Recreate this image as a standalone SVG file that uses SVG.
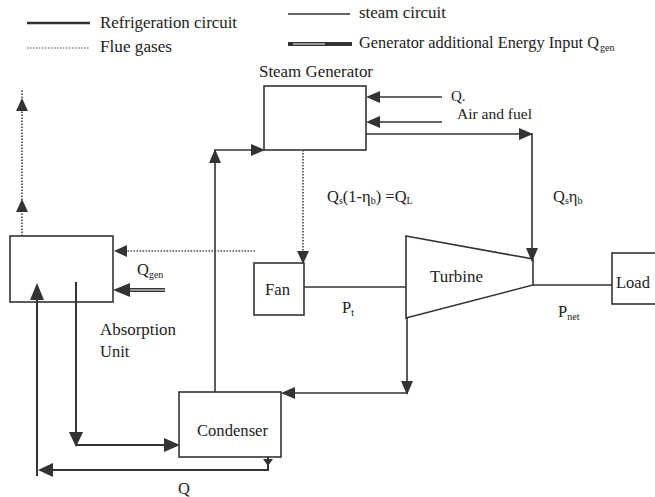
<svg xmlns="http://www.w3.org/2000/svg" width="655" height="497" viewBox="0 0 655 497">
<style>
text{font-family:"Liberation Serif","Times New Roman",serif;font-size:16.5px;fill:#222}
.sub{font-size:10px}
.box{fill:none;stroke:#333;stroke-width:1.6}
.st{fill:none;stroke:#333;stroke-width:1.6}
.rf{fill:none;stroke:#333;stroke-width:2}
.fg{fill:none;stroke:#444;stroke-width:1.6;stroke-dasharray:1.5 1.5}
.ah{fill:#333}
</style>
<rect width="655" height="497" fill="#fff"/>
<g id="legend">
<line x1="27" y1="23" x2="90" y2="23" stroke="#333" stroke-width="2.5"/>
<text x="100" y="28" textLength="137" lengthAdjust="spacingAndGlyphs">Refrigeration circuit</text>
<line x1="27" y1="48" x2="90" y2="48" stroke="#444" stroke-width="1.2" stroke-dasharray="1.5 1.5"/>
<text x="100" y="52" textLength="72" lengthAdjust="spacingAndGlyphs">Flue gases</text>
<line x1="288" y1="14" x2="350" y2="14" stroke="#333" stroke-width="1.6"/>
<text x="359" y="18" textLength="87" lengthAdjust="spacingAndGlyphs">steam circuit</text>
<line x1="288" y1="44" x2="352" y2="44" stroke="#333" stroke-width="4"/>
<line x1="293" y1="44" x2="325" y2="44" stroke="#fff" stroke-width="1"/>
<text x="359" y="48" textLength="240" lengthAdjust="spacingAndGlyphs">Generator additional Energy Input Q</text>
<text x="600" y="51" class="sub">gen</text>
</g>
<g id="steam-generator">
<rect class="box" x="264" y="86" width="102" height="64"/>
<text x="259" y="77" textLength="114" lengthAdjust="spacingAndGlyphs">Steam Generator</text>
</g>
<g id="absorption-unit">
<rect class="box" x="10" y="236" width="103" height="66"/>
<text x="100" y="335" textLength="76" lengthAdjust="spacingAndGlyphs">Absorption</text>
<text x="100" y="357">Unit</text>
</g>
<g id="fan">
<rect class="box" x="254" y="263" width="50" height="52"/>
<text x="265" y="295" textLength="25" lengthAdjust="spacingAndGlyphs">Fan</text>
</g>
<g id="turbine">
<polygon class="box" points="406,236 533,259 533,285 406,318"/>
<text x="430" y="282" textLength="53" lengthAdjust="spacingAndGlyphs">Turbine</text>
</g>
<g id="load">
<rect class="box" x="612" y="253" width="60" height="51"/>
<text x="616" y="288">Load</text>
</g>
<g id="condenser">
<rect class="box" x="179" y="392" width="102" height="65"/>
<text x="197" y="436" textLength="71" lengthAdjust="spacingAndGlyphs">Condenser</text>
</g>
<g id="connectors">
<path class="st" d="M215,392 V150 H258"/>
<polygon class="ah" points="215,149 209,163 221,163"/>
<polygon class="ah" points="265,150 251,144 251,156"/>
<path class="st" d="M442,97 H372"/>
<polygon class="ah" points="366,97 380,91 380,103"/>
<path class="st" d="M442,122 H372"/>
<polygon class="ah" points="366,122 380,116 380,128"/>
<path class="st" d="M366,134 H532 V252"/>
<polygon class="ah" points="533,134 519,128 519,140"/>
<polygon class="ah" points="532,262 526,248 538,248"/>
<path class="st" d="M407,318 V393 H288"/>
<polygon class="ah" points="407,395 401,381 413,381"/>
<polygon class="ah" points="281,393 295,387 295,399"/>
<path class="st" d="M304,287 H406"/>
<path class="st" d="M533,285 H612"/>
<path class="rf" d="M37,476 V292"/>
<polygon class="ah" points="37,283 30,300 44,300"/>
<path class="rf" d="M76,282 V445 H172"/>
<polygon class="ah" points="76,447 69,432 83,432"/>
<polygon class="ah" points="180,445 164,438 164,452"/>
<path class="rf" d="M268,457 V470 H46"/>
<polygon class="ah" points="268,466 263,459 273,459"/>
<polygon class="ah" points="38,470 53,463 53,477"/>
<line x1="165" y1="290" x2="124" y2="290" stroke="#333" stroke-width="4"/>
<line x1="165" y1="290" x2="130" y2="290" stroke="#fff" stroke-width="1"/>
<polygon class="ah" points="113,290 130,283 130,297"/>
<path class="fg" d="M303,150 V254"/>
<polygon class="ah" points="303,264 297,251 309,251"/>
<path class="fg" d="M255,251 H124"/>
<polygon class="ah" points="114,251 127,245 127,257"/>
<path class="fg" d="M22,236 V90"/>
<polygon class="ah" points="22,199 16,212 28,212"/>
<polygon class="ah" points="22,98 16,111 28,111"/>
</g>
<g id="labels">
<text x="451" y="101" style="font-size:15px">Q.</text>
<text x="457" y="119" style="font-size:15px" textLength="75" lengthAdjust="spacingAndGlyphs">Air and fuel</text>
<text x="327" y="202">Q<tspan class="sub" dy="2">s</tspan><tspan dy="-2">(1-η</tspan><tspan class="sub" dy="2">b</tspan><tspan dy="-2">) =Q</tspan><tspan class="sub" dy="2">L</tspan></text>
<text x="553" y="202">Q<tspan class="sub" dy="2">s</tspan><tspan dy="-2">η</tspan><tspan class="sub" dy="2">b</tspan></text>
<text x="137" y="275">Q<tspan class="sub" dy="3">gen</tspan></text>
<text x="342" y="313">P<tspan class="sub" dy="3">t</tspan></text>
<text x="558" y="317">P<tspan class="sub" dy="3">net</tspan></text>
<text x="178" y="494">Q</text>
</g>
</svg>
